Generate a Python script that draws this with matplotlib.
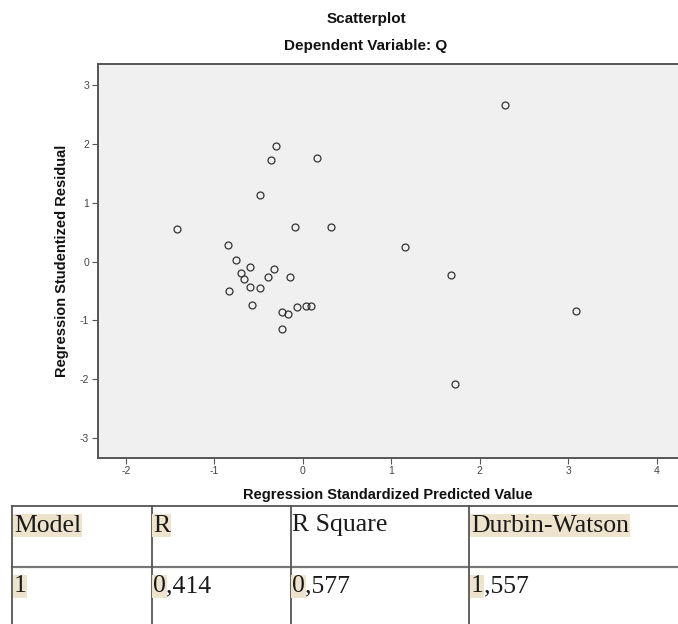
import numpy as np
import matplotlib.pyplot as plt

plt.rcParams['axes.unicode_minus'] = False

# regression diagnostics
pred_std = [2.29, -0.30, -0.36, 0.16, -0.49, -1.42, -0.09, 0.32, 1.15, -0.85,
            -0.76, -0.60, -0.70, -0.66, -0.33, -0.39, -0.14, -0.60, -0.49, -0.83,
            -0.58, 1.67, -0.24, -0.17, -0.07, 0.04, 0.09, -0.24, 3.09, 1.72]
resid_stud = [2.67, 1.96, 1.72, 1.76, 1.13, 0.55, 0.59, 0.59, 0.25, 0.29,
              0.03, -0.10, -0.19, -0.30, -0.12, -0.27, -0.26, -0.43, -0.45, -0.50,
              -0.73, -0.23, -0.85, -0.89, -0.78, -0.75, -0.75, -1.15, -0.84, -2.09]
xticks = [-2, -1, 0, 1, 2, 3, 4]
yticks = [-3, -2, -1, 0, 1, 2, 3]

# model summary table
headers = ['Model', 'R', 'R Square', 'Durbin-Watson']
values = ['1', '0,414', '0,577', '1,557']

W, H = 678, 624
fig = plt.figure(figsize=(W / 100, H / 100), dpi=100)
sans = ['Liberation Sans', 'DejaVu Sans']
serif = ['Liberation Serif', 'DejaVu Serif']

# scatter plot, positioned in pixels
left, right, top, bottom = 97.6, 678, 64, 458
ax = fig.add_axes([left / W, 1 - bottom / H, (right - left) / W, (bottom - top) / H])
ax.set_facecolor('#f0f0f0')
ax.plot(pred_std, resid_stud, 'o', mfc='none', mec='#333333', ms=5, mew=0.9)
ax.set_xlim(-2.32, 4.24)
ax.set_ylim(-3.34, 3.36)
ax.set_xticks(xticks)
ax.set_yticks(yticks)
ax.tick_params(length=4, width=0.8, color='#555555', labelsize=7.5,
               labelcolor='#444444', pad=2)
for lab in ax.get_xticklabels() + ax.get_yticklabels():
    lab.set_family(sans)
for s in ['left', 'bottom', 'top']:
    ax.spines[s].set_color('#555555')
    ax.spines[s].set_linewidth(1.4)
ax.spines['right'].set_visible(False)

ax.set_xlabel('Regression Standardized Predicted Value', fontsize=10.5,
              fontweight='bold', family=sans, color='#111111')
ax.xaxis.set_label_coords(0.5, (bottom - 495) / (bottom - top))
ax.xaxis.label.set_va('center')
ax.set_ylabel('Regression Studentized Residual', fontsize=10.5,
              fontweight='bold', family=sans, color='#111111')
ax.yaxis.set_label_coords((62 - left) / (right - left), 0.5)
ax.yaxis.label.set_va('center')

fig.text(366 / W, 1 - 19 / H, 'Scatterplot', ha='center', va='center',
         fontsize=11, fontweight='bold', family=sans, color='#111111')
fig.text(366 / W, 1 - 46 / H, 'Dependent Variable: Q', ha='center', va='center',
         fontsize=11, fontweight='bold', family=sans, color='#111111')

# table overlay in pixel coordinates
tab = fig.add_axes([0, 0, 1, 1], zorder=-1)
tab.set_xlim(0, W)
tab.set_ylim(H, 0)
tab.axis('off')

col_x = [12.3, 151.5, 290.5, 469.3]
row_top, row_sep = 506, 566.7
line_kw = dict(color='#555555', lw=1.3)
tab.plot([col_x[0], W], [row_top, row_top], **line_kw)
tab.plot([col_x[0], W], [row_sep, row_sep], color='#777777', lw=1.6)
for cx in col_x:
    tab.plot([cx, cx], [row_top, H], **line_kw)

hl = '#eee3cd'
txt_kw = dict(fontsize=18.5, family=serif, color='#1a1a1a', va='baseline', ha='left')
highlight_head = [True, True, False, True]
for cx, head, on in zip(col_x, headers, highlight_head):
    box = dict(facecolor=hl, edgecolor='none', pad=0.5) if on else None
    tab.text(cx + 1.5, 531.5, head, bbox=box, **txt_kw)

for cx, val in zip(col_x, values):
    first = tab.text(cx + 1.5, 592.5, val[0],
                     bbox=dict(facecolor=hl, edgecolor='none', pad=0.5), **txt_kw)
    if len(val) > 1:
        tab.annotate(val[1:], xy=(1, 0), xycoords=first, va='bottom', ha='left',
                     fontsize=18.5, family=serif, color='#1a1a1a')

fig.savefig('out.png', dpi=100)
